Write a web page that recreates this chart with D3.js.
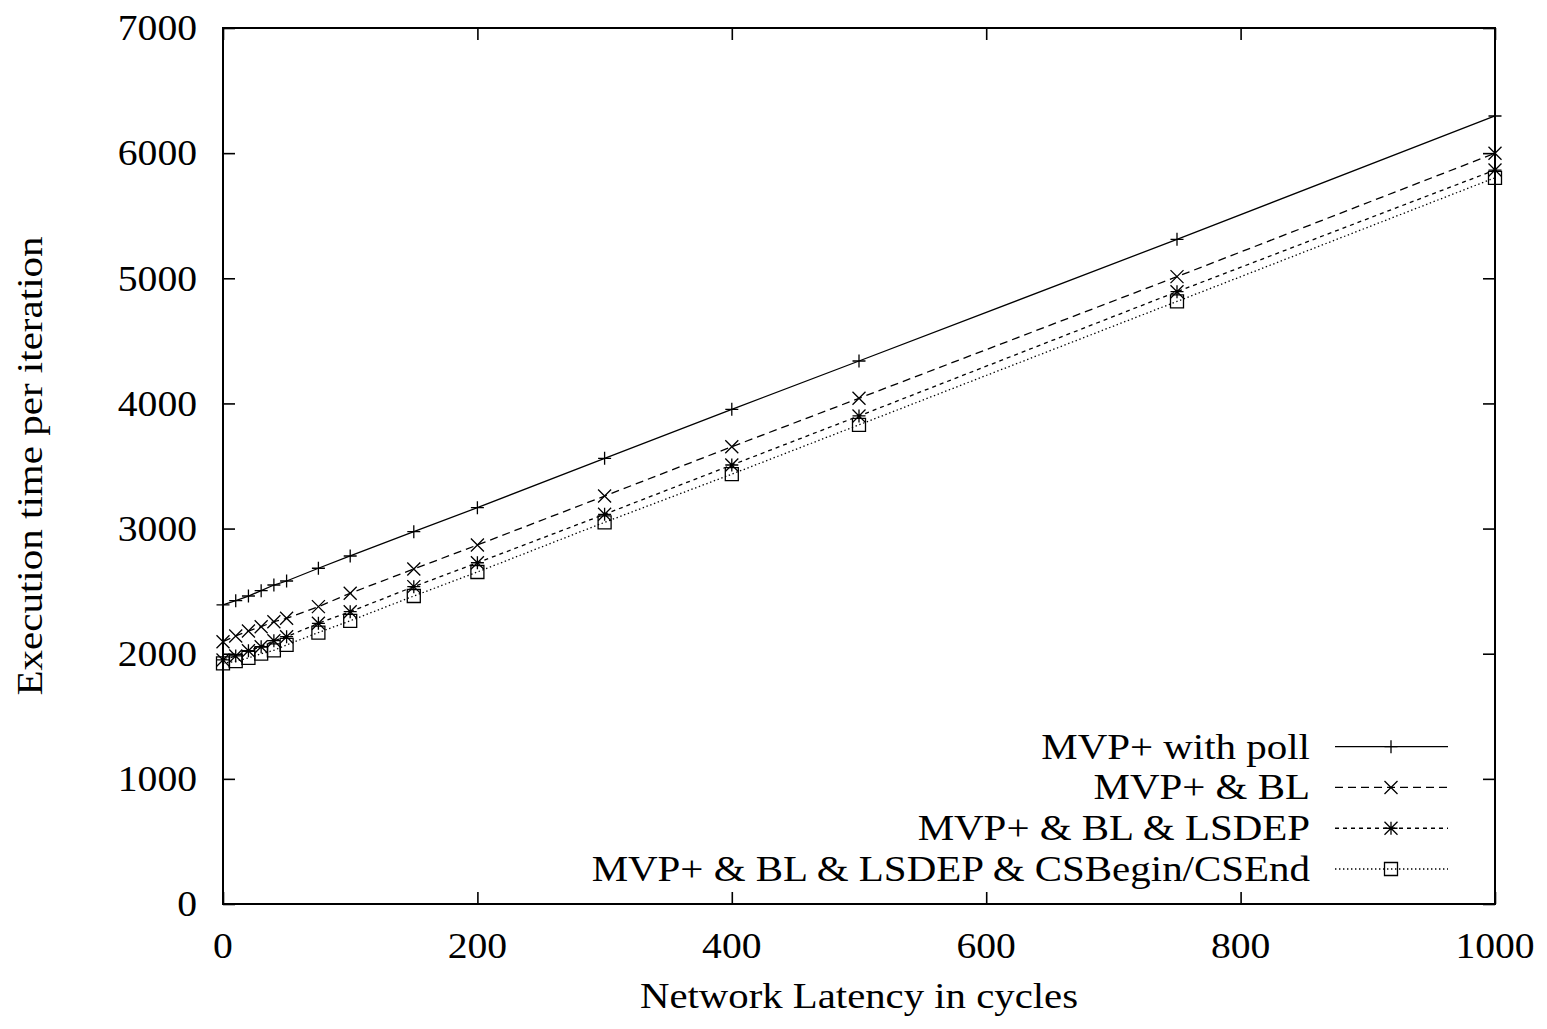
<!DOCTYPE html>
<html>
<head>
<meta charset="utf-8">
<script src="https://cdn.jsdelivr.net/npm/d3@7"></script>
<style>
	body { margin: 0; background: #fff; }
	svg text { font-family: "Liberation Serif", "Times New Roman", serif; fill: #000; }
</style>
</head>
<body>
<svg id="chart" width="1547" height="1029"></svg>
<script>
/*=================================
	DATA
**===============================*/

var latency = [0, 10, 20, 30, 40, 50, 75, 100, 150, 200, 300, 400, 500, 750, 1000];

var pollTimes   = [2390, 2424, 2461, 2504, 2549, 2581, 2683, 2781, 2975, 3167, 3561, 3953, 4339, 5311, 6297];
var blTimes     = [2096, 2142, 2181, 2216, 2256, 2283, 2376, 2483, 2677, 2869, 3260, 3654, 4041, 5013, 5999];
var lsdepTimes  = [1950, 1982, 2024, 2056, 2104, 2136, 2243, 2336, 2536, 2727, 3114, 3508, 3900, 4893, 5865];
var csTimes     = [1923, 1940, 1967, 2000, 2027, 2070, 2169, 2263, 2461, 2653, 3050, 3435, 3829, 4815, 5803];

var seriesNames = ["MVP+ with poll", "MVP+ & BL", "MVP+ & BL & LSDEP", "MVP+ & BL & LSDEP & CSBegin/CSEnd"];
var seriesValues = [pollTimes, blTimes, lsdepTimes, csTimes];

var xTicks = [0, 200, 400, 600, 800, 1000];
var yTicks = [0, 1000, 2000, 3000, 4000, 5000, 6000, 7000];

var xTitle = "Network Latency in cycles";
var yTitle = "Execution time per iteration";

/*=================================
	LAYOUT
**===============================*/

//NOTE: don't call these top/left etc, window.top is read only
var plotLeft = 223, plotRight = 1495, plotTop = 28, plotBottom = 904;
var tickLen = 12;
var stretch = 1.1; //gnuplot's font is a bit wider than Liberation Serif

var svg = d3.select("#chart");

var x = d3.scaleLinear().domain([0, 1000]).range([plotLeft, plotRight]);
var y = d3.scaleLinear().domain([0, 7000]).range([plotBottom, plotTop]);

//line styles per series: dash pattern + point type
var dashes = [null, "8,5", "4,4", "1.4,2.6"];
var points = ["plus", "cross", "star", "box"];

/*=================================
	AXES
**===============================*/

//ticks inward, mirrored on all four sides (gnuplot style)
function addAxis(axis, tx, ty) {
	var g = svg.append("g")
		.attr("transform", "translate(" + tx + "," + ty + ")")
		.call(axis);
	g.select(".domain").remove();
	g.selectAll(".tick line").attr("stroke", "#000").attr("stroke-width", 1.6);
	return g;
}

addAxis(d3.axisBottom(x).tickValues(xTicks).tickSizeInner(-tickLen).tickFormat(""), 0, plotBottom);
addAxis(d3.axisTop(x).tickValues(xTicks).tickSizeInner(-tickLen).tickFormat(""), 0, plotTop);
addAxis(d3.axisLeft(y).tickValues(yTicks).tickSizeInner(-tickLen).tickFormat(""), plotLeft, 0);
addAxis(d3.axisRight(y).tickValues(yTicks).tickSizeInner(-tickLen).tickFormat(""), plotRight, 0);

//tick labels
svg.append("g").selectAll("g")
	.data(xTicks)
	.enter().append("g")
	.attr("transform", function(d) { return "translate(" + x(d) + ",958) scale(" + stretch + ",1)"; })
	.append("text")
	.attr("text-anchor", "middle")
	.style("font-size", "36px")
	.text(function(d) { return d; });

svg.append("g").selectAll("g")
	.data(yTicks)
	.enter().append("g")
	.attr("transform", function(d) { return "translate(197," + y(d) + ") scale(" + stretch + ",1)"; })
	.append("text")
	.attr("text-anchor", "end")
	.attr("dy", "0.34em")
	.style("font-size", "36px")
	.text(function(d) { return d; });

//frame
svg.append("rect")
	.attr("x", plotLeft).attr("y", plotTop)
	.attr("width", plotRight - plotLeft).attr("height", plotBottom - plotTop)
	.attr("fill", "none").attr("stroke", "#000").attr("stroke-width", 2);

//titles
svg.append("g")
	.attr("transform", "translate(" + ((plotLeft + plotRight) / 2) + ",1008) scale(1.165,1)")
	.append("text")
	.attr("text-anchor", "middle")
	.style("font-size", "35px")
	.text(xTitle);

svg.append("g")
	.attr("transform", "translate(42," + ((plotTop + plotBottom) / 2) + ") rotate(-90) scale(1.14,1)")
	.append("text")
	.attr("text-anchor", "middle")
	.style("font-size", "36px")
	.text(yTitle);

/*=================================
	POINT SYMBOLS
**===============================*/

function drawPoint(g, type, cx, cy) {
	var s = 6.5;
	var p = g.append("path")
		.attr("fill", "none")
		.attr("stroke", "#000")
		.attr("stroke-width", 1.3);
	var d = "";
	if (type == "plus" || type == "star") {
		d += "M" + (cx - s) + "," + cy + "H" + (cx + s) + "M" + cx + "," + (cy - s) + "V" + (cy + s);
	}
	if (type == "cross" || type == "star") {
		d += "M" + (cx - s) + "," + (cy - s) + "L" + (cx + s) + "," + (cy + s)
			+ "M" + (cx - s) + "," + (cy + s) + "L" + (cx + s) + "," + (cy - s);
	}
	if (type == "box") {
		d += "M" + (cx - s) + "," + (cy - s) + "h" + (2 * s) + "v" + (2 * s) + "h" + (-2 * s) + "Z";
	}
	p.attr("d", d);
}

/*=================================
	SERIES
**===============================*/

var line = d3.line()
	.x(function(d) { return x(d[0]); })
	.y(function(d) { return y(d[1]); });

seriesValues.forEach(function(vals, i) {
	var pts = latency.map(function(l, j) { return [l, vals[j]]; });
	var g = svg.append("g").attr("class", "series");

	g.append("path")
		.datum(pts)
		.attr("d", line)
		.attr("fill", "none")
		.attr("stroke", "#000")
		.attr("stroke-width", 1.3)
		.attr("stroke-dasharray", dashes[i]);

	pts.forEach(function(p) {
		drawPoint(g, points[i], x(p[0]), y(p[1]));
	});
});

/*=================================
	LEGEND
**===============================*/

var legendY = d3.scaleLinear().domain([0, 3]).range([746.7, 869]);

seriesNames.forEach(function(name, i) {
	var ly = legendY(i);
	var g = svg.append("g").attr("class", "legend");

	g.append("g")
		.attr("transform", "translate(1310," + ly + ") scale(1.17,1)")
		.append("text")
		.attr("text-anchor", "end")
		.attr("dy", "0.34em")
		.style("font-size", "35px")
		.text(name);

	g.append("line")
		.attr("x1", 1335).attr("x2", 1448)
		.attr("y1", ly).attr("y2", ly)
		.attr("stroke", "#000")
		.attr("stroke-width", 1.3)
		.attr("stroke-dasharray", dashes[i]);

	drawPoint(g, points[i], 1391, ly);
});
</script>
</body>
</html>
